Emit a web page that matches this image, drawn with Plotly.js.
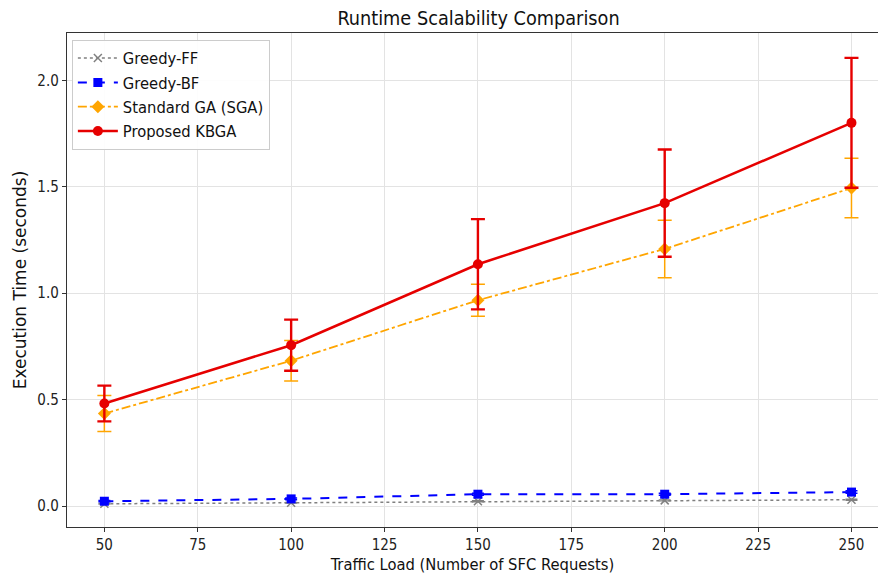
<!DOCTYPE html>
<html>
<head>
<meta charset="utf-8">
<script src="https://cdn.plot.ly/plotly-3.0.1.min.js"></script>
<style>html,body{margin:0;padding:0;background:#fff;}#chart{width:878px;height:574px;}</style>
</head>
<body>
<div id="chart"></div>
<script>
const loads = [50, 100, 150, 200, 250];
const greedyFF = [0.011, 0.016, 0.023, 0.027, 0.030];
const greedyFFErr = [0.002, 0.002, 0.003, 0.003, 0.003];
const greedyBF = [0.023, 0.034, 0.056, 0.056, 0.066];
const greedyBFErr = [0.003, 0.004, 0.005, 0.005, 0.006];
const sga = [0.435, 0.683, 0.967, 1.208, 1.494];
const sgaErr = [0.085, 0.095, 0.075, 0.135, 0.140];
const kbga = [0.482, 0.756, 1.136, 1.423, 1.800];
const kbgaErr = [0.084, 0.120, 0.212, 0.252, 0.305];
const xTicks = [50, 75, 100, 125, 150, 175, 200, 225, 250];
const yTicks = [0.0, 0.5, 1.0, 1.5, 2.0];
const yTickLabels = ['0.0', '0.5', '1.0', '1.5', '2.0'];

const font = '"DejaVu Sans Condensed", "DejaVu Sans", sans-serif';
const fontNormal = '"DejaVu Sans", sans-serif';

const traces = [
  {
    x: loads, y: greedyFF, name: 'Greedy-FF', mode: 'lines+markers', type: 'scatter',
    line: {color: '#808080', width: 1.5, dash: 'dot'},
    marker: {symbol: 'x-thin', size: 8, color: '#808080', line: {color: '#808080', width: 1.5}},
    error_y: {type: 'data', array: greedyFFErr, visible: true, color: '#808080', thickness: 1.2, width: 6}
  },
  {
    x: loads, y: greedyBF, name: 'Greedy-BF', mode: 'lines+markers', type: 'scatter',
    line: {color: '#0000ff', width: 2, dash: 'dash'},
    marker: {symbol: 'square', size: 9, color: '#0000ff'},
    error_y: {type: 'data', array: greedyBFErr, visible: true, color: '#0000ff', thickness: 1.5, width: 6}
  },
  {
    x: loads, y: sga, name: 'Standard GA (SGA)', mode: 'lines+markers', type: 'scatter',
    line: {color: '#ffa500', width: 1.8, dash: 'dashdot'},
    marker: {symbol: 'diamond', size: 10, color: '#ffa500'},
    error_y: {type: 'data', array: sgaErr, visible: true, color: '#ffa500', thickness: 1.5, width: 7}
  },
  {
    x: loads, y: kbga, name: 'Proposed KBGA', mode: 'lines+markers', type: 'scatter',
    line: {color: '#e60000', width: 2.6},
    marker: {symbol: 'circle', size: 10, color: '#e60000'},
    error_y: {type: 'data', array: kbgaErr, visible: true, color: '#e60000', thickness: 2.4, width: 7}
  }
];

const layout = {
  width: 878, height: 574,
  margin: {l: 67, r: 0, t: 33, b: 47},
  paper_bgcolor: '#ffffff', plot_bgcolor: '#ffffff',
  font: {family: font, size: 14, color: '#222'},
  title: {text: 'Runtime Scalability Comparison', font: {family: font, size: 19.7, color: '#111'}, x: 0.545, xanchor: 'center', y: 0.968, yanchor: 'middle'},
  showlegend: true,
  legend: {
    x: 0.006, y: 0.986, xanchor: 'left', yanchor: 'top',
    bgcolor: 'rgba(255,255,255,0.9)', bordercolor: '#cccccc', borderwidth: 1,
    font: {family: font, size: 16.4, color: '#111'},
    tracegroupgap: 0, itemwidth: 40
  },
  xaxis: {
    range: [40, 257.1], tickmode: 'array', tickvals: xTicks, ticktext: xTicks.map(String),
    showgrid: true, gridcolor: '#e3e3e3', gridwidth: 1, zeroline: false,
    showline: true, linecolor: '#333333', linewidth: 1.2, mirror: true,
    ticks: 'outside', ticklen: 4, tickcolor: '#333333',
    tickfont: {family: font, size: 15, color: '#222'},
    title: {text: 'Traffic Load (Number of SFC Requests)', font: {family: font, size: 16.4, color: '#111'}, standoff: 6}
  },
  yaxis: {
    range: [-0.098, 2.222], tickmode: 'array', tickvals: yTicks, ticktext: yTickLabels,
    showgrid: true, gridcolor: '#e3e3e3', gridwidth: 1, zeroline: false,
    showline: true, linecolor: '#333333', linewidth: 1.2, mirror: false,
    ticks: 'outside', ticklen: 4, tickcolor: '#333333',
    tickfont: {family: font, size: 15, color: '#222'},
    title: {text: 'Execution Time (seconds)', font: {family: fontNormal, size: 17, color: '#111'}, standoff: 6}
  }
};

Plotly.newPlot('chart', traces, layout, {displayModeBar: false, staticPlot: true});
</script>
</body>
</html>
